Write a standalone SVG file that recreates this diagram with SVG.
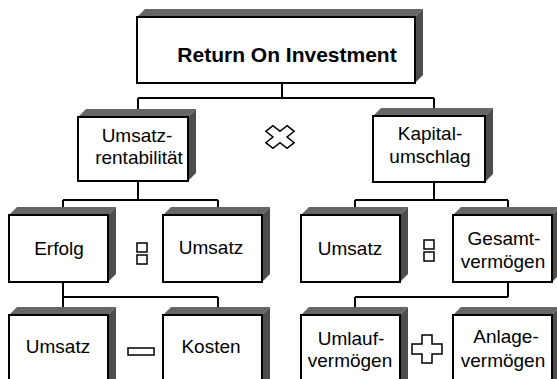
<svg xmlns="http://www.w3.org/2000/svg" width="557" height="379" viewBox="0 0 557 379">
  <style>
    .bg { fill: #ffffff; }
    .face { fill: #ffffff; stroke: #000000; stroke-width: 2; }
    .top { fill: #666666; }
    .side { fill: #4d4d4d; }
    .lbl { font-family: "Liberation Sans", Arial, sans-serif; font-size: 19px; fill: #000000; text-anchor: middle; }
    .title { font-family: "Liberation Sans", Arial, sans-serif; font-size: 21px; font-weight: bold; fill: #000000; text-anchor: middle; }
    .conn { fill: none; stroke: #000000; stroke-width: 2; }
    .op { fill: #ffffff; stroke: #000000; stroke-width: 1.5; }
  </style>
  <rect class="bg" x="0" y="0" width="557" height="379"/>

  <!-- tree connectors, drawn under the blocks -->
  <g id="connectors">
    <path class="conn" d="M282,83 V98 M138,98 H434 M138,98 V117 M434,98 V116"/>
    <path class="conn" d="M138,181 V200 M63,200 H218 M63,200 V215 M218,200 V215"/>
    <path class="conn" d="M434,182 V200 M355,200 H508 M355,200 V215 M508,200 V215"/>
    <path class="conn" d="M63,282 V297 M63,297 H218 M63,297 V315 M218,297 V315"/>
    <path class="conn" d="M508,282 V297 M355,297 H508 M355,297 V315"/>
  </g>

  <!-- each block: grey top face, darker side face, white front face -->
  <g id="roi">
    <polygon class="top" points="137,17 145,9 423,9 415,17"/>
    <polygon class="side" points="415,17 423,9 423,75 415,83"/>
    <rect class="face" x="137" y="17" width="278" height="66"/>
    <text class="title" x="287" y="62">Return On Investment</text>
  </g>

  <g id="umsatzrentabilitaet">
    <polygon class="top" points="78,117 86,109 196,109 188,117"/>
    <polygon class="side" points="188,117 196,109 196,173 188,181"/>
    <rect class="face" x="78" y="117" width="110" height="64"/>
    <text class="lbl" x="137" y="142">Umsatz-</text>
    <text class="lbl" x="139" y="164">rentabilität</text>
  </g>

  <g id="kapitalumschlag">
    <polygon class="top" points="373,116 381,108 493,108 485,116"/>
    <polygon class="side" points="485,116 493,108 493,174 485,182"/>
    <rect class="face" x="373" y="116" width="112" height="66"/>
    <text class="lbl" x="430" y="140">Kapital-</text>
    <text class="lbl" x="430" y="163">umschlag</text>
  </g>

  <g id="erfolg">
    <polygon class="top" points="9,215 17,207 116,207 108,215"/>
    <polygon class="side" points="108,215 116,207 116,274 108,282"/>
    <rect class="face" x="9" y="215" width="99" height="67"/>
    <text class="lbl" x="59" y="255">Erfolg</text>
  </g>

  <g id="umsatz-links">
    <polygon class="top" points="163,215 171,207 270,207 262,215"/>
    <polygon class="side" points="262,215 270,207 270,274 262,282"/>
    <rect class="face" x="163" y="215" width="99" height="67"/>
    <text class="lbl" x="211" y="254">Umsatz</text>
  </g>

  <g id="umsatz-rechts">
    <polygon class="top" points="301,215 309,207 408,207 400,215"/>
    <polygon class="side" points="400,215 408,207 408,274 400,282"/>
    <rect class="face" x="301" y="215" width="99" height="67"/>
    <text class="lbl" x="350" y="255">Umsatz</text>
  </g>

  <g id="gesamtvermoegen">
    <polygon class="top" points="453,215 461,207 560,207 552,215"/>
    <polygon class="side" points="552,215 560,207 560,274 552,282"/>
    <rect class="face" x="453" y="215" width="99" height="67"/>
    <text class="lbl" x="504" y="245">Gesamt-</text>
    <text class="lbl" x="503" y="268">vermögen</text>
  </g>

  <g id="umsatz-unten">
    <polygon class="top" points="9,315 17,307 116,307 108,315"/>
    <polygon class="side" points="108,315 116,307 116,390 108,398"/>
    <rect class="face" x="9" y="315" width="99" height="80"/>
    <text class="lbl" x="58" y="353">Umsatz</text>
  </g>

  <g id="kosten">
    <polygon class="top" points="163,315 171,307 270,307 262,315"/>
    <polygon class="side" points="262,315 270,307 270,390 262,398"/>
    <rect class="face" x="163" y="315" width="99" height="80"/>
    <text class="lbl" x="211" y="353">Kosten</text>
  </g>

  <g id="umlaufvermoegen">
    <polygon class="top" points="301,315 309,307 408,307 400,315"/>
    <polygon class="side" points="400,315 408,307 408,390 400,398"/>
    <rect class="face" x="301" y="315" width="99" height="80"/>
    <text class="lbl" x="351" y="345">Umlauf-</text>
    <text class="lbl" x="350" y="367">vermögen</text>
  </g>

  <g id="anlagevermoegen">
    <polygon class="top" points="453,315 461,307 560,307 552,315"/>
    <polygon class="side" points="552,315 560,307 560,390 552,398"/>
    <rect class="face" x="453" y="315" width="99" height="80"/>
    <text class="lbl" x="506" y="343">Anlage-</text>
    <text class="lbl" x="503" y="367">vermögen</text>
  </g>

  <!-- operator signs between the blocks -->
  <g id="op-mal">
    <polygon class="op" vector-effect="non-scaling-stroke" transform="translate(280,137) scale(1,0.8) rotate(45)"
      points="-5,-15 5,-15 5,-5 15,-5 15,5 5,5 5,15 -5,15 -5,5 -15,5 -15,-5 -5,-5"/>
  </g>
  <g id="op-geteilt-links">
    <rect class="op" x="137" y="243" width="10" height="9"/>
    <rect class="op" x="137" y="255" width="10" height="9"/>
  </g>
  <g id="op-geteilt-rechts">
    <rect class="op" x="424" y="240" width="10" height="9"/>
    <rect class="op" x="424" y="252" width="10" height="9"/>
  </g>
  <g id="op-minus">
    <rect class="op" x="128" y="348" width="26" height="7"/>
  </g>
  <g id="op-plus">
    <polygon class="op" points="422,335 432,335 432,344 442,344 442,354 432,354 432,363 422,363 422,354 412,354 412,344 422,344"/>
  </g>
</svg>
